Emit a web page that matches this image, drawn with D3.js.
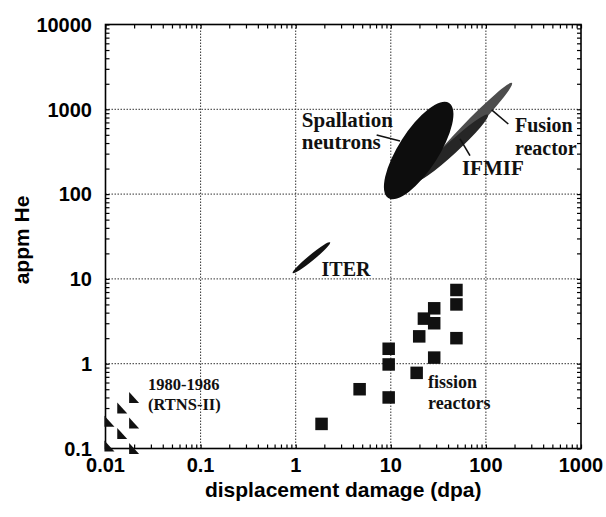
<!DOCTYPE html>
<html><head><meta charset="utf-8">
<script src="https://cdn.jsdelivr.net/npm/d3@7"></script>
<style>body{margin:0;background:#fff}svg{display:block}</style>
</head><body>
<svg id="c" width="606" height="517"></svg>
<script>
// ---------- data ----------
const xTickValues = [0.01, 0.1, 1, 10, 100, 1000];
const xTickLabels = ["0.01", "0.1", "1", "10", "100", "1000"];
const yTickValues = [0.1, 1, 10, 100, 1000, 10000];
const yTickLabels = ["0.1", "1", "10", "100", "1000", "10000"];

// fission reactors (dpa, appm He)
const fissionDpa  = [49, 49, 28.6, 22.3, 28.6, 19.9, 49, 9.5, 28.6, 9.5, 18.7, 4.7, 9.5, 1.87];
const fissionAppm = [7.4, 5.0, 4.5, 3.4, 3.0, 2.1, 2.0, 1.5, 1.18, 0.98, 0.78, 0.5, 0.4, 0.195];

// RTNS-II 1980-1986
const rtnsDpa  = [0.02, 0.015, 0.011, 0.02, 0.015, 0.011, 0.02];
const rtnsAppm = [0.4, 0.3, 0.21, 0.2, 0.15, 0.107, 0.1];

// regions: major-axis end points (dpa, appm)
const regionNames = ["Fusion reactor", "IFMIF", "Spallation neutrons", "ITER"];
const regionFrom  = [[20, 150], [18, 140], [9.4, 90], [0.93, 11.7]];
const regionTo    = [[188, 2040], [105, 860], [41, 1190], [2.3, 27]];

// ---------- layout ----------
const svg = d3.select("#c");
const L = 105.5, R = 581, T = 24.5, B = 448.5;
const x = d3.scaleLog().domain([0.01, 1000]).range([L, R]);
const y = d3.scaleLog().domain([0.1, 10000]).range([B, T]);

const sans = "'Liberation Sans', Arial, Helvetica, sans-serif";
const serif = "'Liberation Serif', 'Times New Roman', serif";

// grid lines
const g = svg.append("g");
xTickValues.slice(1, -1).forEach(v => {
  g.append("line").attr("x1", x(v)).attr("x2", x(v)).attr("y1", T).attr("y2", B)
    .attr("stroke", "#333").attr("stroke-width", 1).attr("stroke-dasharray", "1.5,1.5");
});
yTickValues.slice(1, -1).forEach(v => {
  g.append("line").attr("y1", y(v)).attr("y2", y(v)).attr("x1", L).attr("x2", R)
    .attr("stroke", "#333").attr("stroke-width", 1).attr("stroke-dasharray", "1.5,1.5");
});

// axes with inward ticks (using d3 axes)
function minorTicks(scale) {
  const [a, b] = scale.domain();
  const out = [];
  for (let e = Math.log10(a); e < Math.log10(b); e++) {
    for (let k = 1; k <= 9; k++) out.push(k * Math.pow(10, e));
  }
  out.push(b);
  return out;
}
function styleAxis(sel) {
  sel.select(".domain").remove();
  sel.selectAll(".tick line").attr("stroke", "#000").attr("stroke-width", 1.2);
  sel.selectAll(".tick text").remove();
}
const xt = minorTicks(x), yt = minorTicks(y);

svg.append("g").attr("transform", `translate(0,${B})`)
  .call(d3.axisTop(x).tickValues(xt).tickSize(4).tickFormat(""))
  .call(styleAxis);
svg.append("g").attr("transform", `translate(0,${T})`)
  .call(d3.axisBottom(x).tickValues(xt).tickSize(4).tickFormat(""))
  .call(styleAxis);
svg.append("g").attr("transform", `translate(${L},0)`)
  .call(d3.axisRight(y).tickValues(yt).tickSize(4).tickFormat(""))
  .call(styleAxis);
svg.append("g").attr("transform", `translate(${R},0)`)
  .call(d3.axisLeft(y).tickValues(yt).tickSize(4).tickFormat(""))
  .call(styleAxis);

// frame
svg.append("rect").attr("x", L).attr("y", T).attr("width", R - L).attr("height", B - T)
  .attr("fill", "none").attr("stroke", "#000").attr("stroke-width", 1.6);

// tick labels
svg.append("g").selectAll("text").data(xTickValues).join("text")
  .attr("x", d => x(d)).attr("y", 472).attr("text-anchor", "middle")
  .attr("font-family", sans).attr("font-weight", "bold").attr("font-size", 20)
  .text((d, i) => xTickLabels[i]);
svg.append("g").selectAll("text").data(yTickValues).join("text")
  .attr("x", 92).attr("y", d => y(d)).attr("dy", "0.36em").attr("text-anchor", "end")
  .attr("font-family", sans).attr("font-weight", "bold").attr("font-size", 20)
  .text((d, i) => yTickLabels[i]);

// axis titles
svg.append("text").attr("x", (L + R) / 2).attr("y", 497).attr("text-anchor", "middle")
  .attr("font-family", sans).attr("font-weight", "bold").attr("font-size", 21)
  .text("displacement damage (dpa)");
svg.append("text").attr("transform", "translate(29,240) rotate(-90)").attr("text-anchor", "middle")
  .attr("font-family", sans).attr("font-weight", "bold").attr("font-size", 21)
  .text("appm He");

// regions (ellipses)
const regionWidth = [12, 12, 40, 6];
const regionFill = ["#4d4d4d", "#262626", "#0d0d0d", "#111"];
const regions = regionNames.map((n, i) => {
  const x1 = x(regionFrom[i][0]), y1 = y(regionFrom[i][1]);
  const x2 = x(regionTo[i][0]), y2 = y(regionTo[i][1]);
  return { n, cx: (x1 + x2) / 2, cy: (y1 + y2) / 2,
    rx: Math.hypot(x2 - x1, y2 - y1) / 2, ry: regionWidth[i] / 2,
    a: Math.atan2(y2 - y1, x2 - x1) * 180 / Math.PI, fill: regionFill[i] };
});
svg.append("g").selectAll("ellipse").data(regions).join("ellipse")
  .attr("cx", 0).attr("cy", 0).attr("rx", d => d.rx).attr("ry", d => d.ry)
  .attr("transform", d => `translate(${d.cx},${d.cy}) rotate(${d.a})`)
  .attr("fill", d => d.fill);

// fission squares
const sq = 12.5;
svg.append("g").selectAll("rect").data(fissionDpa.map((d, i) => [d, fissionAppm[i]])).join("rect")
  .attr("x", d => x(d[0]) - sq / 2).attr("y", d => y(d[1]) - sq / 2)
  .attr("width", sq).attr("height", sq).attr("fill", "#111");

// RTNS-II triangles
const tw = 10, th = 11;
svg.append("g").selectAll("path").data(rtnsDpa.map((d, i) => [d, rtnsAppm[i]])).join("path")
  .attr("d", d => {
    const cx = x(d[0]), cy = y(d[1]);
    return `M${cx - tw / 2},${cy - th / 2}L${cx - tw / 2},${cy + th / 2}L${cx + tw / 2},${cy + th / 2}Z`;
  })
  .attr("fill", "#111");

// leader lines (data coordinates)
const leaders = [
  [[7.1, 498], [12.5, 423]],
  [[53.5, 447], [68, 284]],
  [[115, 983], [172, 671]]
];
svg.append("g").selectAll("line").data(leaders).join("line")
  .attr("x1", d => x(d[0][0])).attr("y1", d => y(d[0][1]))
  .attr("x2", d => x(d[1][0])).attr("y2", d => y(d[1][1]))
  .attr("stroke", "#111").attr("stroke-width", 1.6);

// annotations (anchor in data coordinates)
const notes = [
  { t: ["Spallation", "neutrons"], at: [1.16, 618], size: 21, w: "bold", lh: "1.05em" },
  { t: ["IFMIF"], at: [56, 168], size: 21, w: "bold", lh: "1em" },
  { t: ["Fusion", "reactor"], at: [202, 540], size: 20, w: "bold", lh: "1.15em" },
  { t: ["ITER"], at: [1.87, 10.8], size: 20, w: "bold", lh: "1em" },
  { t: ["1980-1986", "(RTNS-II)"], at: [0.028, 0.49], size: 16.5, w: "bold", lh: "1.2em" },
  { t: ["fission", "reactors"], at: [24.6, 0.516], size: 18, w: "bold", lh: "1.15em" }
];
notes.forEach(n => {
  const te = svg.append("text").attr("x", x(n.at[0])).attr("y", y(n.at[1]))
    .attr("font-family", serif).attr("font-weight", n.w).attr("font-size", n.size).attr("fill", "#111");
  n.t.forEach((s, i) => te.append("tspan").attr("x", x(n.at[0])).attr("dy", i ? n.lh : 0).text(s));
});
</script>
</body></html>
